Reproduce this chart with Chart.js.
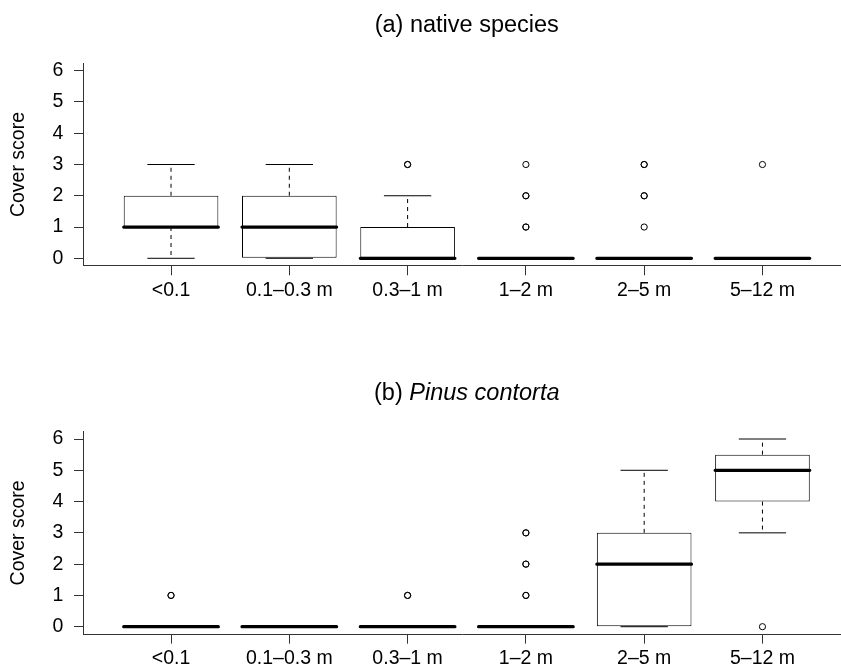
<!DOCTYPE html>
<html><head><meta charset="utf-8">
<script src="https://cdn.jsdelivr.net/npm/chart.js@4.4.1/dist/chart.umd.min.js"></script>
<style>
html,body{margin:0;padding:0;background:#fff;overflow:hidden;width:841px;height:666px;}
#wrap{position:relative;width:841px;height:666px;overflow:hidden;background:#fff;}
canvas{position:absolute;left:0;}
.ptitle{position:absolute;left:166.75px;width:600px;text-align:center;font:23.5px/23.5px "Liberation Sans",Arial,Helvetica,sans-serif;color:#000;white-space:nowrap;}
</style></head><body>
<div id="wrap">
<canvas id="ca" width="841" height="333" style="top:0"></canvas>
<canvas id="cb" width="841" height="360" style="top:333px"></canvas>
<div class="ptitle" style="top:13.1px">(a) native species</div>
<div class="ptitle" style="top:381px">(b) <i>Pinus contorta</i></div>
</div>
<script>
// ---- data ----
const categories = ['<0.1', '0.1–0.3 m', '0.3–1 m', '1–2 m', '2–5 m', '5–12 m'];
const yTicks = [0, 1, 2, 3, 4, 5, 6];
const yLabel = 'Cover score';

// (a) native species
const nativeLower   = [0, 0, 0, 0, 0, 0];
const nativeQ1      = [1, 0, 0, 0, 0, 0];
const nativeMedian  = [1, 1, 0, 0, 0, 0];
const nativeQ3      = [2, 2, 1, 0, 0, 0];
const nativeUpper   = [3, 3, 2, 0, 0, 0];
const nativeOutliers = [[], [], [3, 3], [3, 2, 2, 1, 1], [3, 3, 2, 2, 1], [3]];

// (b) Pinus contorta
const pinusLower   = [0, 0, 0, 0, 0, 3];
const pinusQ1      = [0, 0, 0, 0, 0, 4];
const pinusMedian  = [0, 0, 0, 0, 2, 5];
const pinusQ3      = [0, 0, 0, 0, 3, 5.5];
const pinusUpper   = [0, 0, 0, 0, 5, 6];
const pinusOutliers = [[1, 1], [], [1, 1], [3, 3, 2, 2, 1, 1], [], [0]];

// ---- styling / layout constants ----
const FONT = '"Liberation Sans", Arial, Helvetica, sans-serif';
const BOX_HALF = 0.4;   // boxwex 0.8
const CAP_HALF = 0.2;   // staple width
const LINE = '#000';
const AXIS = '#333';
Chart.defaults.font.family = FONT;
Chart.defaults.color = '#000';

function buildPanel(id, lower, q1, med, q3, upper, outliers, padding) {
  const boxes = [], medians = [], whiskers = [], caps = [], pts = [];
  categories.forEach((c, i) => {
    const x = i + 1;
    boxes.push({x, y: [q1[i], q3[i]]});
    medians.push({x: x - BOX_HALF, y: med[i]}, {x: x + BOX_HALF, y: med[i]}, {x, y: null});
    whiskers.push({x, y: q3[i]}, {x, y: upper[i]}, {x, y: null},
                  {x, y: q1[i]}, {x, y: lower[i]}, {x, y: null});
    caps.push({x: x - CAP_HALF, y: upper[i]}, {x: x + CAP_HALF, y: upper[i]}, {x, y: null},
              {x: x - CAP_HALF, y: lower[i]}, {x: x + CAP_HALF, y: lower[i]}, {x, y: null});
    outliers[i].forEach(v => pts.push({x, y: v}));
  });
  const lineBase = {type: 'line', pointRadius: 0, fill: false, spanGaps: false, tension: 0};
  return new Chart(document.getElementById(id), {
    type: 'bar',
    data: {
      datasets: [
        {type: 'line', data: pts, showLine: false, pointRadius: 3.1, pointStyle: 'circle',
         pointBorderWidth: 1, pointBorderColor: LINE, pointBackgroundColor: 'rgba(0,0,0,0)', order: 0},
        Object.assign({}, lineBase, {data: medians, borderColor: LINE, borderWidth: 3.2, borderCapStyle: 'round', order: 1}),
        Object.assign({}, lineBase, {data: caps, borderColor: LINE, borderWidth: 1, order: 2}),
        Object.assign({}, lineBase, {data: whiskers, borderColor: LINE, borderWidth: 1, borderDash: [4, 4], order: 3}),
        {type: 'bar', data: boxes, backgroundColor: '#fff', borderColor: LINE, borderWidth: 1,
         borderSkipped: false, categoryPercentage: 1, barPercentage: 0.8, order: 4}
      ]
    },
    options: {
      responsive: false, animation: false, events: [], devicePixelRatio: 1,
      layout: {padding: padding, autoPadding: false},
      plugins: {legend: {display: false}, tooltip: {enabled: false}, title: {display: false}},
      scales: {
        x: {
          type: 'linear', min: 0.26, max: 6.664, offset: false, bounds: 'data',
          grid: {display: true, drawOnChartArea: false, drawTicks: true, tickLength: 9.5, color: AXIS, offset: false, lineWidth: 1},
          border: {display: true, color: AXIS, width: 1},
          ticks: {autoSkip: false, maxRotation: 0, minRotation: 0, padding: 3.5,
                  font: {size: 19.5, lineHeight: 1.2}, color: '#000',
                  callback: (v, i) => categories[i]},
          afterBuildTicks: s => { s.ticks = categories.map((c, i) => ({value: i + 1})); },
          afterFit: s => { s.height = 40; s.paddingLeft = 0; s.paddingRight = 0; }
        },
        y: {
          type: 'linear', min: -0.24, max: 6.24, bounds: 'data',
          grid: {display: true, drawOnChartArea: false, drawTicks: true, tickLength: 9.5, color: AXIS, lineWidth: 1},
          border: {display: true, color: AXIS, width: 1},
          ticks: {padding: 10.7, font: {size: 19.5, lineHeight: 1.2}, color: '#000',
                  callback: v => String(v)},
          afterBuildTicks: s => { s.ticks = yTicks.map(v => ({value: v})); },
          afterFit: s => { s.width = 83.5; },
          title: {display: true, text: yLabel, color: '#000',
                  font: {size: 19.5, lineHeight: 1.2}, padding: {top: 6.5, bottom: 0}}
        }
      }
    }
  });
}

buildPanel('ca', nativeLower, nativeQ1, nativeMedian, nativeQ3, nativeUpper, nativeOutliers,
           {top: 63.2, left: 0, right: 0, bottom: 27.2});
buildPanel('cb', pinusLower, pinusQ1, pinusMedian, pinusQ3, pinusUpper, pinusOutliers,
           {top: 98.5, left: 0, right: 0, bottom: 18.8});
</script>
</body></html>
